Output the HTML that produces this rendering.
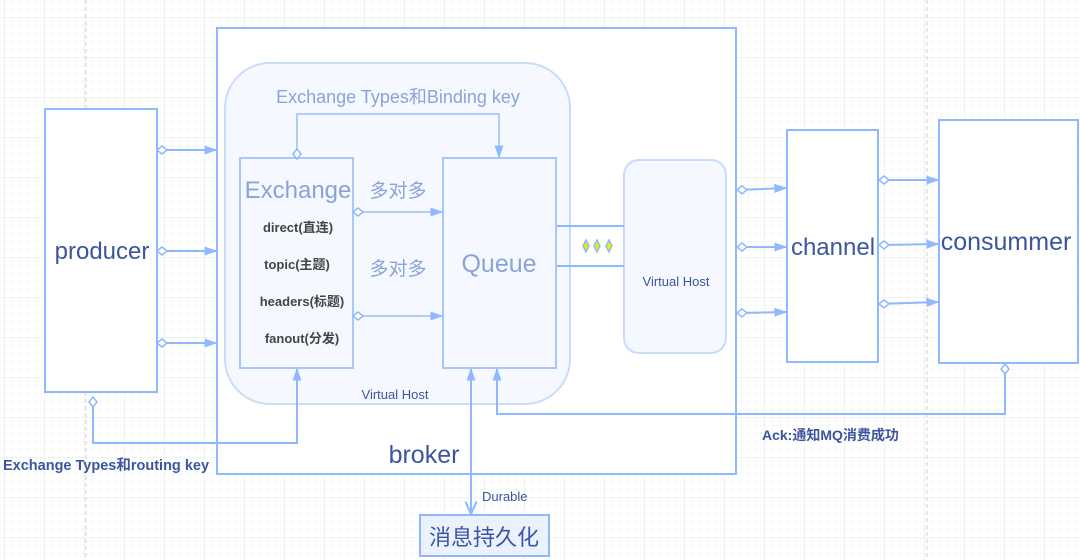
<!DOCTYPE html>
<html><head><meta charset="utf-8"><style>
html,body{margin:0;padding:0;background:#fff}
svg{display:block}
text{font-family:"Liberation Sans","Noto Sans CJK SC",sans-serif}
</style></head><body>
<svg width="1080" height="560" xmlns="http://www.w3.org/2000/svg">
<defs>
<pattern id="minor" width="8" height="8" patternUnits="userSpaceOnUse" x="5" y="2"><path d="M8 0V8H0" fill="none" stroke="#f2f2f2" stroke-width="1"/></pattern>
<pattern id="major" width="40" height="40" patternUnits="userSpaceOnUse" x="5" y="18"><path d="M40 0V40H0" fill="none" stroke="#e4e4e4" stroke-width="1"/></pattern>
<marker id="a" viewBox="0 0 10 10" refX="9" refY="5" markerWidth="13" markerHeight="13" orient="auto-start-reverse" markerUnits="userSpaceOnUse"><path d="M0 1.5L10 5L0 8.5z" fill="#8fb8ff"/></marker>
<marker id="ao" viewBox="0 0 10 10" refX="9" refY="5" markerWidth="14" markerHeight="14" orient="auto" markerUnits="userSpaceOnUse"><path d="M0 1L9 5L0 9" fill="none" stroke="#8fb8ff" stroke-width="1.5"/></marker>
<marker id="d" viewBox="0 0 12 12" refX="1" refY="6" markerWidth="12" markerHeight="12" orient="auto" markerUnits="userSpaceOnUse"><path d="M1 6L6 2L11 6L6 10z" fill="#fff" stroke="#8fb8ff" stroke-width="1.5"/></marker>
</defs>
<rect width="1080" height="560" fill="url(#minor)"/>
<rect width="1080" height="560" fill="url(#major)"/>
<line x1="86" y1="0" x2="86" y2="560" stroke="#d0d0d0" stroke-dasharray="4,3"/>
<line x1="927" y1="0" x2="927" y2="560" stroke="#d0d0d0" stroke-dasharray="4,3"/>
<g stroke="#8fb8ff" stroke-width="2" fill="none">
<rect x="45" y="109" width="112" height="283" fill="#fff"/>
<rect x="217" y="28" width="519" height="446" fill="#fff"/>
<rect x="787" y="130" width="91" height="232" fill="#fff"/>
<rect x="939" y="120" width="139" height="243" fill="#fff"/>
<rect x="420" y="515" width="129" height="41" fill="#eaf2ff"/>
</g>
<rect x="225" y="63" width="345" height="341" rx="45" fill="#f5f9ff" stroke="#c8dcfb" stroke-width="2"/>
<rect x="624" y="160" width="102" height="193" rx="15" fill="#f5f9ff" stroke="#c8dcfb" stroke-width="2"/>
<g stroke="#a8c8fb" stroke-width="2" fill="none">
<rect x="240" y="158" width="113" height="210"/>
<rect x="443" y="158" width="113" height="210"/>
</g>
<g stroke="#8fb8ff" stroke-width="2" fill="none">
<line x1="557" y1="226" x2="624" y2="226"/>
<line x1="557" y1="266" x2="624" y2="266"/>
<path d="M157 150H216" marker-start="url(#d)" marker-end="url(#a)"/>
<path d="M157 251H216" marker-start="url(#d)" marker-end="url(#a)"/>
<path d="M157 343H216" marker-start="url(#d)" marker-end="url(#a)"/>
<path d="M737 190L786 188" marker-start="url(#d)" marker-end="url(#a)"/>
<path d="M737 247H786" marker-start="url(#d)" marker-end="url(#a)"/>
<path d="M737 313L786 312" marker-start="url(#d)" marker-end="url(#a)"/>
<path d="M879 180H938" marker-start="url(#d)" marker-end="url(#a)"/>
<path d="M879 245L938 244" marker-start="url(#d)" marker-end="url(#a)"/>
<path d="M879 304L938 302" marker-start="url(#d)" marker-end="url(#a)"/>
<path d="M1005 364V414H497V369" marker-start="url(#d)" marker-end="url(#a)"/>
<path d="M93 397V443H297V369" marker-start="url(#d)" marker-end="url(#a)"/>
<path d="M471 369V514" marker-start="url(#a)" marker-end="url(#ao)"/>
</g>
<g stroke="#b0cdfb" stroke-width="2" fill="none">
<path d="M297 159V114H499V157" marker-start="url(#d)" marker-end="url(#a)"/>
<path d="M353 212H442" marker-start="url(#d)" marker-end="url(#a)"/>
<path d="M353 316H442" marker-start="url(#d)" marker-end="url(#a)"/>
</g>
<g fill="#e8f000" stroke="#8fb8ff" stroke-width="1.5">
<path d="M586 240l3 6l-3 6l-3-6z"/><path d="M597 240l3 6l-3 6l-3-6z"/><path d="M609 240l3 6l-3 6l-3-6z"/>
</g>
<g fill="#3d55a0">
<text x="102" y="259" font-size="24" text-anchor="middle">producer</text>
<text x="833" y="255" font-size="24" text-anchor="middle">channel</text>
<text x="1006" y="250" font-size="25" text-anchor="middle">consummer</text>
<text x="424" y="463" font-size="25" text-anchor="middle">broker</text>
<text x="484" y="545" font-size="22" text-anchor="middle">消息持久化</text>
<text x="395" y="399" font-size="13" text-anchor="middle">Virtual Host</text>
<text x="676" y="286" font-size="13" text-anchor="middle">Virtual Host</text>
<text x="482" y="501" font-size="13">Durable</text>
<text x="3" y="470" font-size="14.5" font-weight="bold">Exchange Types和routing key</text>
<text x="762" y="440" font-size="14" font-weight="bold">Ack:通知MQ消费成功</text>
</g>
<g fill="#444" font-weight="bold">
<text x="298" y="232" font-size="13" text-anchor="middle">direct(直连)</text>
<text x="297" y="269" font-size="13" text-anchor="middle">topic(主题)</text>
<text x="302" y="306" font-size="13" text-anchor="middle">headers(标题)</text>
<text x="302" y="343" font-size="13" text-anchor="middle">fanout(分发)</text>
</g>
<g fill="#8aa3d8">
<text x="398" y="103" font-size="18" text-anchor="middle">Exchange Types和Binding key</text>
<text x="298" y="198" font-size="24" text-anchor="middle">Exchange</text>
<text x="499" y="272" font-size="25" text-anchor="middle">Queue</text>
<text x="398" y="197" font-size="19" text-anchor="middle">多对多</text>
<text x="398" y="275" font-size="19" text-anchor="middle">多对多</text>
</g>
</svg>
</body></html>
